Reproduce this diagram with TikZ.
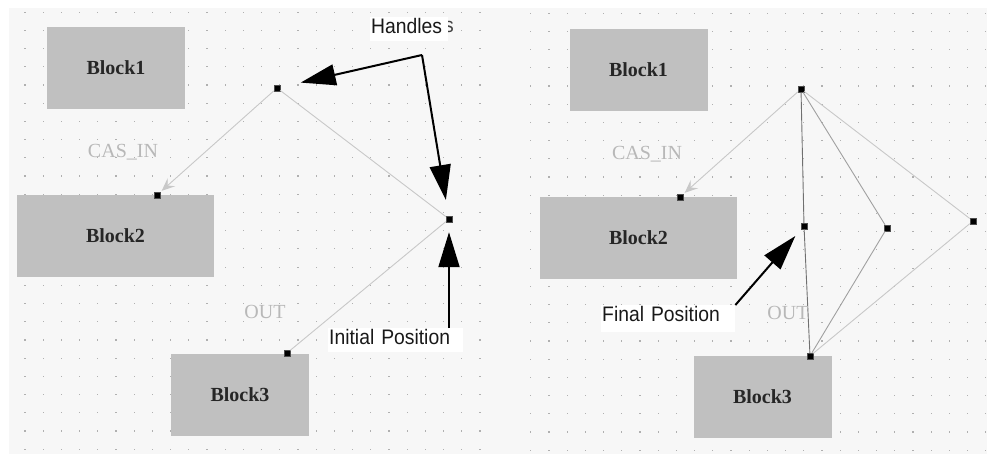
\documentclass[tikz,border=0pt]{standalone}
\usepackage{fontspec}
\setmainfont{Liberation Serif}
\newfontfamily\calloutfont[FakeStretch=0.92]{Liberation Sans}
\usetikzlibrary{arrows.meta, positioning}
\definecolor{panelbg}{HTML}{F7F7F7}
\definecolor{blockgray}{HTML}{C0C0C0}
\definecolor{dotgray}{HTML}{B0B0B0}
\definecolor{wiregray}{HTML}{C8C8C8}
\definecolor{wiremid}{HTML}{A0A0A0}
\definecolor{wiredark}{HTML}{707070}
\definecolor{pingray}{HTML}{B8B8B8}

\begin{document}
\begin{tikzpicture}[x=1pt, y=-1pt,
                block/.style={fill=blockgray, minimum width=138pt, minimum height=82pt, inner sep=0pt, text=black!85, font=\fontsize{20}{20}\selectfont\bfseries},
                wideblock/.style={block, minimum width=197pt},
                handle/.style={fill=black, draw=black!70, minimum size=6pt, inner sep=0pt},
                pin/.style={text=pingray, inner sep=0pt, font=\fontsize{20}{20}\selectfont},
                wire/.style={draw=wiregray, line width=0.9pt},
                inarrow/.style={-{Stealth[length=13pt, width=11pt, inset=5pt]}, shorten >=2pt},
                callout/.style={fill=white, anchor=north west, inner xsep=1pt, inner ysep=0pt, text height=16pt, text depth=8pt, align=left, text=black!90, font=\calloutfont\fontsize{21}{21}\selectfont},
                pointer/.style={draw=black, line width=2pt, -{Triangle[length=35pt, width=21pt]}}
            ]
            \useasboundingbox (0,0) rectangle (987,454);

            % Editor panel with dot grid
            \fill[panelbg] (9,8) rectangle (987,454);
            \foreach \i in {0,...,25}
                \foreach \j in {0,...,24} {
                    \fill[dotgray] (24.4+18.2*\i, 11.7+18.2*\j) rectangle +(1.2,1.2);
                    \fill[dotgray] (530.1+18.2*\i, 12.7+18.2*\j) rectangle +(1.2,1.2);
                }

            % Left: initial position
            \node[block] (lblock1) at (116,68) {Block1};
            \node[wideblock] (lblock2) at (115.5,236) {Block2};
            \node[block] (lblock3) at (240,395) {Block3};

            \node[handle] (lh1) at (277,88) {};
            \node[handle] (lh2) at (449,219) {};
            \node[handle] (lin) at (157,195) {};
            \node[handle] (lout) at (287,353) {};

            \draw[wire, inarrow] (lh1) -- (lin);
            \draw[wire] (lh1) -- (lh2) -- (lout);

            \node[pin] (lcasin) at (123,152) {CAS\_IN};
            \node[pin] (loutlbl) at (265,312) {OUT};

            % Right: final position
            \node[block] (rblock1) at (638.5,70) {Block1};
            \node[wideblock] (rblock2) at (638.5,238) {Block2};
            \node[block] (rblock3) at (762.5,397) {Block3};

            \node[handle] (rtop) at (801,89) {};
            \node[handle] (rin) at (680,197) {};
            \node[handle] (rout) at (810,356) {};
            \node[handle] (rh1) at (804,226) {};
            \node[handle] (rh2) at (887,228) {};
            \node[handle] (rh3) at (973,221) {};

            \draw[wire, inarrow] (rtop) -- (rin);
            \draw[wire, draw=wiredark] (rtop) -- (rh1) -- (rout);
            \draw[wire, draw=wiremid] (rtop) -- (rh2) -- (rout);
            \draw[wire] (rtop) -- (rh3) -- (rout);

            \node[pin] (rcasin) at (647,154) {CAS\_IN};
            \node[pin] (routlbl) at (788,313) {OUT};

            % Callouts
            \node[anchor=base west, inner sep=0pt, text=black!75, font=\calloutfont\fontsize{21}{21}\selectfont] (hstray) at (444,33) {s};
            \node[callout, text width=76pt] (hlbl) at (370,17) {Handles};
            \node[callout, text width=133pt] (ilbl) at (328,328) {Initial Position};
            \node[callout, text width=132pt, text depth=11pt] (flbl) at (601,305) {Final Position};

            \coordinate (hfork) at (422,55);
            \draw[pointer, shorten >=21pt] (hfork) -- (lh1);
            \draw[pointer, shorten >=16pt] (hfork) -- (lh2);
            \draw[pointer, shorten >=10pt] (ilbl.north -| lh2) -- (lh2);
            \draw[pointer, shorten >=9pt] (flbl.north east) -- (rh1);
        \end{tikzpicture}
\end{document}
